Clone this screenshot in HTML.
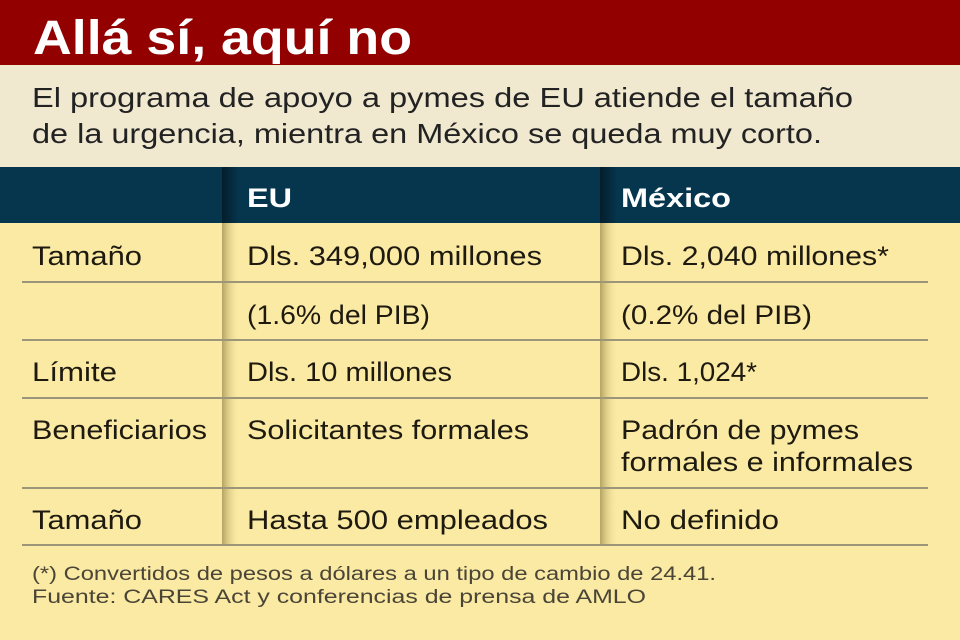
<!DOCTYPE html>
<html><head><meta charset="utf-8"><style>
html,body{margin:0;padding:0;width:960px;height:640px;overflow:hidden;background:#faeaa4}
svg{display:block}
text{font-family:"Liberation Sans",sans-serif}
</style></head><body>
<svg width="960" height="640" viewBox="0 0 960 640" xmlns="http://www.w3.org/2000/svg">
<defs>
<linearGradient id="sh" x1="0" x2="1" y1="0" y2="0">
<stop offset="0" stop-color="#7a6a30" stop-opacity="0.55"/>
<stop offset="0.4" stop-color="#a8964f" stop-opacity="0.3"/>
<stop offset="1" stop-color="#faeaa4" stop-opacity="0"/>
</linearGradient>
<linearGradient id="shn" x1="0" x2="1" y1="0" y2="0">
<stop offset="0" stop-color="#000" stop-opacity="0.45"/>
<stop offset="1" stop-color="#000" stop-opacity="0"/>
</linearGradient>
</defs>
<rect x="0" y="0" width="960" height="65" fill="#920000"/>
<rect x="0" y="65" width="960" height="102" fill="#f0e9d0"/>
<rect x="0" y="167" width="960" height="56" fill="#06364e"/>
<rect x="0" y="223" width="960" height="417" fill="#faeaa4"/>
<rect x="222" y="167" width="18" height="56" fill="url(#shn)"/>
<rect x="600" y="167" width="18" height="56" fill="url(#shn)"/>
<rect x="222" y="223" width="18" height="322" fill="url(#sh)"/>
<rect x="600" y="223" width="18" height="322" fill="url(#sh)"/>
<g stroke="#9c9579" stroke-width="2">
<line x1="22" y1="282" x2="928" y2="282"/>
<line x1="22" y1="340" x2="928" y2="340"/>
<line x1="22" y1="398" x2="928" y2="398"/>
<line x1="22" y1="488" x2="928" y2="488"/>
<line x1="22" y1="545" x2="928" y2="545"/>
</g>
<text x="33" y="54" font-size="48" font-weight="bold" fill="#fff" textLength="379" lengthAdjust="spacingAndGlyphs">Allá sí, aquí no</text>
<g font-size="28" fill="#222">
<text x="32" y="107" textLength="821" lengthAdjust="spacingAndGlyphs">El programa de apoyo a pymes de EU atiende el tamaño</text>
<text x="32" y="143" textLength="790" lengthAdjust="spacingAndGlyphs">de la urgencia, mientra en México se queda muy corto.</text>
</g>
<g font-size="27" font-weight="bold" fill="#fff">
<text x="247" y="207" textLength="45" lengthAdjust="spacingAndGlyphs">EU</text>
<text x="621" y="207" textLength="110" lengthAdjust="spacingAndGlyphs">México</text>
</g>
<g font-size="27" fill="#1e1a10">
<text x="32" y="265" textLength="110" lengthAdjust="spacingAndGlyphs">Tamaño</text>
<text x="247" y="265" textLength="295" lengthAdjust="spacingAndGlyphs">Dls. 349,000 millones</text>
<text x="621" y="265" textLength="268" lengthAdjust="spacingAndGlyphs">Dls. 2,040 millones*</text>
<text x="247" y="324" textLength="183" lengthAdjust="spacingAndGlyphs">(1.6% del PIB)</text>
<text x="621" y="324" textLength="191" lengthAdjust="spacingAndGlyphs">(0.2% del PIB)</text>
<text x="32" y="381" textLength="85" lengthAdjust="spacingAndGlyphs">Límite</text>
<text x="247" y="381" textLength="205" lengthAdjust="spacingAndGlyphs">Dls. 10 millones</text>
<text x="621" y="381" textLength="136" lengthAdjust="spacingAndGlyphs">Dls. 1,024*</text>
<text x="32" y="439" textLength="175" lengthAdjust="spacingAndGlyphs">Beneficiarios</text>
<text x="247" y="439" textLength="282" lengthAdjust="spacingAndGlyphs">Solicitantes formales</text>
<text x="621" y="439" textLength="238" lengthAdjust="spacingAndGlyphs">Padrón de pymes</text>
<text x="621" y="471" textLength="292" lengthAdjust="spacingAndGlyphs">formales e informales</text>
<text x="32" y="529" textLength="110" lengthAdjust="spacingAndGlyphs">Tamaño</text>
<text x="247" y="529" textLength="301" lengthAdjust="spacingAndGlyphs">Hasta 500 empleados</text>
<text x="621" y="529" textLength="158" lengthAdjust="spacingAndGlyphs">No definido</text>
</g>
<g font-size="19" fill="#4a4536">
<text x="32" y="580" textLength="684" lengthAdjust="spacingAndGlyphs">(*) Convertidos de pesos a dólares a un tipo de cambio de 24.41.</text>
<text x="32" y="603" textLength="614" lengthAdjust="spacingAndGlyphs">Fuente: CARES Act y conferencias de prensa de AMLO</text>
</g>
</svg>
</body></html>
